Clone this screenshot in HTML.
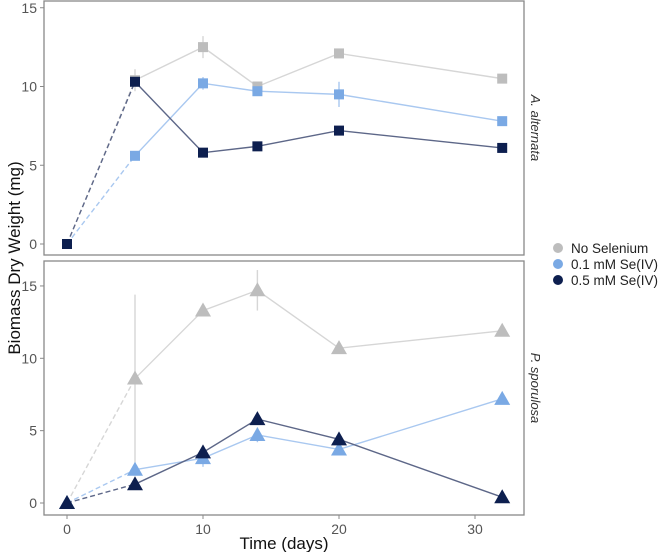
<!DOCTYPE html>
<html><head><meta charset="utf-8"><style>
body{margin:0;background:#fff;font-family:"Liberation Sans",sans-serif}
svg text{font-family:"Liberation Sans",sans-serif}
</style></head><body>
<svg id="c" width="666" height="552" xmlns="http://www.w3.org/2000/svg"></svg>
<script>
const days=[0,5,10,14,20,32];
const seriesNames=["No Selenium","0.1 mM Se(IV)","0.5 mM Se(IV)"];
const altNoSe=[0,10.4,12.5,10.0,12.1,10.5];
const altNoSeErr=[0,0.7,0.7,0.2,0.2,0.3];
const alt01=[0,5.6,10.2,9.7,9.5,7.8];
const alt01Err=[0,0.3,0.4,0.2,0.8,0.2];
const alt05=[0,10.3,5.8,6.2,7.2,6.1];
const alt05Err=[0,0.2,0.2,0.2,0.2,0.2];
const sporNoSe=[0,8.6,13.3,14.7,10.7,11.9];
const sporNoSeErr=[0,5.8,0.4,1.4,0.2,0.2];
const spor01=[0,2.3,3.1,4.7,3.7,7.2];
const spor01Err=[0,0.2,0.6,0.5,0.3,0.2];
const spor05=[0,1.3,3.5,5.8,4.4,0.4];
const spor05Err=[0,0.2,0.2,0.2,0.2,0.2];
const xTicks=[0,10,20,30];
const yTicks=[0,5,10,15];

const NS="http://www.w3.org/2000/svg";
const svg=document.getElementById('c');
function el(tag,attrs,parent){const e=document.createElementNS(NS,tag);for(const k in attrs)e.setAttribute(k,attrs[k]);(parent||svg).appendChild(e);return e;}
const xS=v=>67+v*13.6;
const panels=[
 {name:"a-alternata",label:"A. alternata",top:1,bot:255,y0:244,ppu:15.75,shape:"sq",data:[altNoSe,alt01,alt05],err:[altNoSeErr,alt01Err,alt05Err]},
 {name:"p-sporulosa",label:"P. sporulosa",top:261,bot:515,y0:503,ppu:14.47,shape:"tri",data:[sporNoSe,spor01,spor05],err:[sporNoSeErr,spor01Err,spor05Err]}
];
const markCol=["#bdbdbd","#7aa9e4","#0d1f4f"];
const lineCol=["#d6d6d6","#a9c8f0","#5d6788"];
panels.forEach(p=>{
 const yS=v=>p.y0-v*p.ppu;
 const g=el('g',{});
 
 
 const box=el('rect',{x:44,y:p.top,width:480,height:p.bot-p.top,fill:'none',stroke:'#888','stroke-width':1.3},g);
 
 
 yTicks.forEach(t=>{
  el('line',{x1:40,x2:44,y1:yS(t),y2:yS(t),stroke:'#888'},g);
  const tx=el('text',{x:37,y:yS(t)+5,'text-anchor':'end','font-size':14,fill:'#555'},g);
  tx.textContent=t;
  
  
 });
 const st=el('text',{transform:`translate(531,${(p.top+p.bot)/2}) rotate(90)`,'text-anchor':'middle','font-size':13,'font-style':'italic',fill:'#333'},g);
 st.textContent=p.label;
 
 
 p.data.forEach((vals,si)=>{
  const errs=p.err[si];
  const d=el('line',{x1:xS(days[0]),y1:yS(vals[0]),x2:xS(days[1]),y2:yS(vals[1]),stroke:lineCol[si],'stroke-width':1.4,'stroke-dasharray':'5,3'},g);
  
  
  const pts=days.slice(1).map((dd,i)=>xS(dd)+','+yS(vals[i+1])).join(' ');
  const pl=el('polyline',{points:pts,fill:'none',stroke:lineCol[si],'stroke-width':1.4},g);
  
  
  days.forEach((dd,i)=>{
   const cx=xS(dd),cy=yS(vals[i]);
   if(errs[i]>0.25){
    const e=el('line',{x1:cx,x2:cx,y1:yS(vals[i]+errs[i]),y2:yS(vals[i]-errs[i]),stroke:lineCol[si],'stroke-width':1.4},g);
    
    
   }
   let m;
   if(p.shape==="sq") m=el('rect',{x:cx-5,y:cy-5,width:10,height:10,fill:markCol[si]},g);
   else m=el('polygon',{points:`${cx},${cy-8} ${cx+8},${cy+6} ${cx-8},${cy+6}`,fill:markCol[si]},g);
   
   
  });
 });
});
xTicks.forEach(t=>{
 el('line',{x1:xS(t),x2:xS(t),y1:515,y2:519,stroke:'#888'});
 const tx=el('text',{x:xS(t),y:534,'text-anchor':'middle','font-size':14,fill:'#555'});
 tx.textContent=t;
 
 
});
const xt=el('text',{x:284,y:549,'text-anchor':'middle','font-size':17,fill:'#111'});
xt.textContent='Time (days)';


const yt=el('text',{transform:'translate(20,258) rotate(-90)','text-anchor':'middle','font-size':17,fill:'#111'});
yt.textContent='Biomass Dry Weight (mg)';


seriesNames.forEach((n,i)=>{
 const y=248+i*16;
 const g=el('g',{});
 
 
 el('circle',{cx:558,cy:y,r:5,fill:markCol[i]},g);
 const t=el('text',{x:571,y:y+5,'font-size':13.5,fill:'#222'},g);
 t.textContent=n;
});
</script>
</body></html>
